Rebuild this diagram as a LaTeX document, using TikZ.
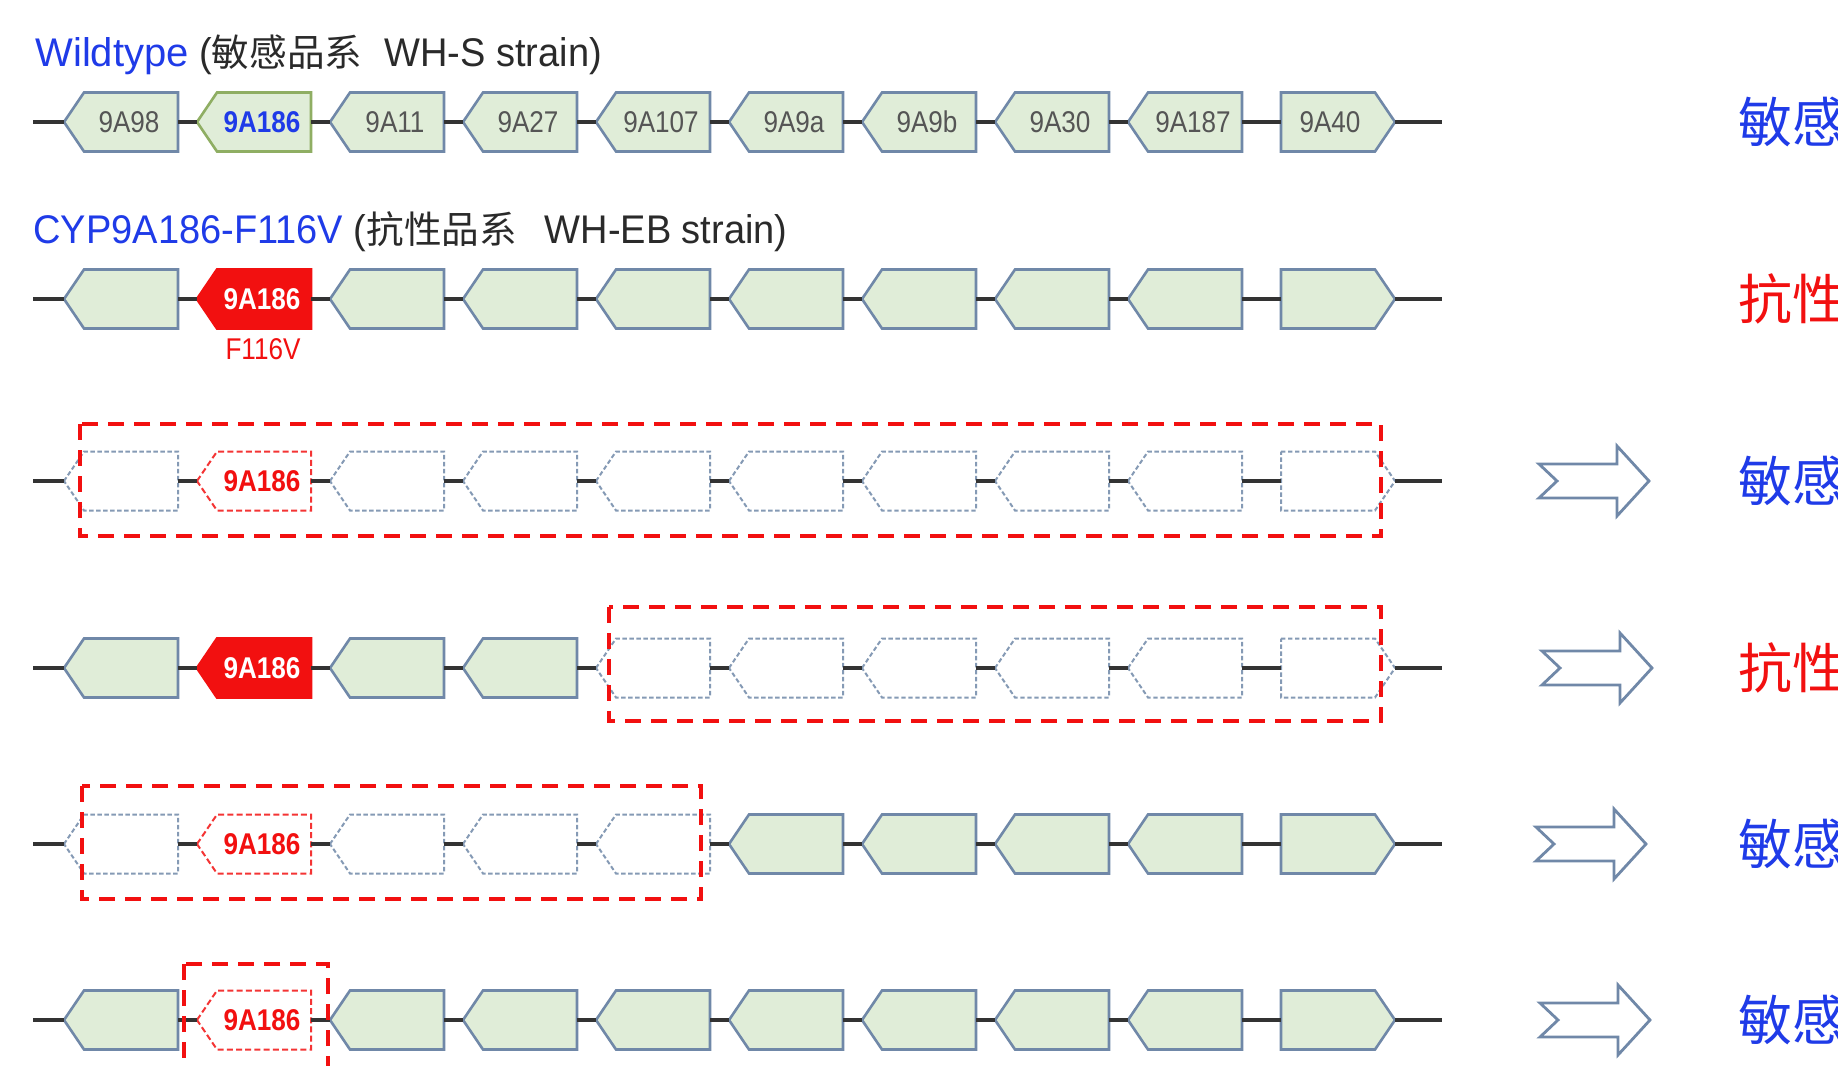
\documentclass[tikz,border=0pt]{standalone}
\usepackage{fontspec}
\setmainfont{Liberation Sans}
\newfontfamily\cjk{Noto Sans CJK SC}
\newfontfamily\gfont[FakeStretch=0.87]{Liberation Sans}
\newfontfamily\tfont[FakeStretch=0.95]{Liberation Sans}
\newfontfamily\wfont{Liberation Sans}
\definecolor{gfill}{HTML}{E0EDD8}
\definecolor{gedge}{HTML}{7088A8}
\definecolor{gwtedge}{HTML}{8FAE63}
\definecolor{tblue}{HTML}{1F3BE8}
\definecolor{tred}{HTML}{F21010}
\definecolor{gtext}{HTML}{555555}
\definecolor{bbcol}{HTML}{333333}
\definecolor{ttext}{HTML}{2A2A2A}
\tikzset{
 genetext/.style={inner sep=0pt,font=\gfont\fontsize{15}{15}\selectfont,text=gtext},
 sol-S/.style={fill=gfill,draw=gedge,line width=1.3pt,line join=miter},
 sol-T/.style={},
 wt-S/.style={fill=gfill,draw=gwtedge,line width=1.3pt,line join=miter},
 wt-T/.style={text=tblue,font=\gfont\fontsize{15}{15}\selectfont\bfseries},
 red-S/.style={fill=tred,draw=tred,line width=1.3pt,line join=miter},
 red-T/.style={text=white,font=\gfont\fontsize{15}{15}\selectfont\bfseries},
 dsh-S/.style={fill=white,draw=gedge!85,line width=1pt,dash pattern=on 2.2pt off 1.3pt},
 dsh-T/.style={},
 dred-S/.style={fill=white,draw=tred!85,line width=1pt,dash pattern=on 3pt off 1.6pt},
 dred-T/.style={text=tred,font=\gfont\fontsize{15}{15}\selectfont\bfseries},
 backbone/.style={draw=bbcol,line width=1.6pt},
 redbox/.style={draw=tred,line width=2pt,dash pattern=on 8pt off 5pt},
 bigarrow/.style={draw=gedge,fill=white,line width=1.4pt,line join=miter},
 verdict/.style={anchor=west,inner sep=0pt,font=\cjk\fontsize{27}{27}\selectfont},
 titletext/.style={anchor=west,inner sep=0pt,font=\tfont\fontsize{20}{24}\selectfont,text=ttext},
}
% left-pointing gene: name, x of tip, y, kind, label
\newcommand\gL[5]{%
 \path[#4-S] (#2,#3) -- (#2+20,#3-29.5) -- (#2+114,#3-29.5) -- (#2+114,#3+29.5) -- (#2+20,#3+29.5) -- cycle;
 \node[genetext,#4-T] (#1) at (#2+65,#3) {#5};
 \coordinate (#1-l) at (#2,#3);
 \coordinate (#1-r) at (#2+114,#3);}
% right-pointing gene: name, x of left edge, y, kind, label
\newcommand\gR[5]{%
 \path[#4-S] (#2,#3-29.5) -- (#2+94,#3-29.5) -- (#2+114,#3) -- (#2+94,#3+29.5) -- (#2,#3+29.5) -- cycle;
 \node[genetext,#4-T] (#1) at (#2+49,#3) {#5};
 \coordinate (#1-l) at (#2,#3);
 \coordinate (#1-r) at (#2+114,#3);}
% backbone: prefix, y
\newcommand\backb[2]{%
 \coordinate (#1s) at (33,#2);
 \coordinate (#1e) at (1442,#2);
 \draw[backbone] (#1s) -- (#1g1-l);
 \foreach \i [evaluate=\i as \j using int(\i+1)] in {1,...,9} {\draw[backbone] (#1g\i-r) -- (#1g\j-l);}
 \draw[backbone] (#1g10-r) -- (#1e);}
% block arrow: name, x, y
\newcommand\barrow[3]{%
 \draw[bigarrow] (#2,#3-17) -- (#2+78,#3-17) -- (#2+78,#3-35) -- (#2+110,#3) -- (#2+78,#3+35) -- (#2+78,#3+17) -- (#2,#3+17) -- (#2+18,#3) -- cycle;
 \coordinate (#1) at (#2+55,#3);}
\begin{document}
\begin{tikzpicture}[x=0.5pt,y=-0.5pt]
\useasboundingbox[fill=white] (0,0) rectangle (1838,1066);
% ---------- titles
\node[titletext] (t1) at (35,55) {\textcolor{tblue}{\wfont Wildtype} ({\cjk\fontsize{18.8}{24}\selectfont 敏感品系}\hspace{11pt}WH-S strain)};
\node[titletext] (t2) at (33,232) {\textcolor{tblue}{CYP9A186-F116V} ({\cjk\fontsize{18.8}{24}\selectfont 抗性品系}\hspace{14pt}WH-EB strain)};
% ---------- row 1
\gL{ag1}{64}{122}{sol}{9A98}
\gL{ag2}{197}{122}{wt}{9A186}
\gL{ag3}{330}{122}{sol}{9A11}
\gL{ag4}{463}{122}{sol}{9A27}
\gL{ag5}{596}{122}{sol}{9A107}
\gL{ag6}{729}{122}{sol}{9A9a}
\gL{ag7}{862}{122}{sol}{9A9b}
\gL{ag8}{995}{122}{sol}{9A30}
\gL{ag9}{1128}{122}{sol}{9A187}
\gR{ag10}{1281}{122}{sol}{9A40}
\backb{a}{122}
% ---------- row 2
\gL{bg1}{64}{299}{sol}{}
\gL{bg2}{197}{299}{red}{9A186}
\gL{bg3}{330}{299}{sol}{}
\gL{bg4}{463}{299}{sol}{}
\gL{bg5}{596}{299}{sol}{}
\gL{bg6}{729}{299}{sol}{}
\gL{bg7}{862}{299}{sol}{}
\gL{bg8}{995}{299}{sol}{}
\gL{bg9}{1128}{299}{sol}{}
\gR{bg10}{1281}{299}{sol}{}
\backb{b}{299}
\node[genetext,text=tred] (mut) at (263,349) {F116V};
% ---------- row 3
\gL{cg1}{64}{481}{dsh}{}
\gL{cg2}{197}{481}{dred}{9A186}
\gL{cg3}{330}{481}{dsh}{}
\gL{cg4}{463}{481}{dsh}{}
\gL{cg5}{596}{481}{dsh}{}
\gL{cg6}{729}{481}{dsh}{}
\gL{cg7}{862}{481}{dsh}{}
\gL{cg8}{995}{481}{dsh}{}
\gL{cg9}{1128}{481}{dsh}{}
\gR{cg10}{1281}{481}{dsh}{}
\backb{c}{481}
\draw[redbox] (80,424) rectangle (1381,536);
% ---------- row 4
\gL{dg1}{64}{668}{sol}{}
\gL{dg2}{197}{668}{red}{9A186}
\gL{dg3}{330}{668}{sol}{}
\gL{dg4}{463}{668}{sol}{}
\gL{dg5}{596}{668}{dsh}{}
\gL{dg6}{729}{668}{dsh}{}
\gL{dg7}{862}{668}{dsh}{}
\gL{dg8}{995}{668}{dsh}{}
\gL{dg9}{1128}{668}{dsh}{}
\gR{dg10}{1281}{668}{dsh}{}
\backb{d}{668}
\draw[redbox] (609,607) rectangle (1381,721);
% ---------- row 5
\gL{eg1}{64}{844}{dsh}{}
\gL{eg2}{197}{844}{dred}{9A186}
\gL{eg3}{330}{844}{dsh}{}
\gL{eg4}{463}{844}{dsh}{}
\gL{eg5}{596}{844}{dsh}{}
\gL{eg6}{729}{844}{sol}{}
\gL{eg7}{862}{844}{sol}{}
\gL{eg8}{995}{844}{sol}{}
\gL{eg9}{1128}{844}{sol}{}
\gR{eg10}{1281}{844}{sol}{}
\backb{e}{844}
\draw[redbox] (82,786) rectangle (701,899);
% ---------- row 6
\gL{fg1}{64}{1020}{sol}{}
\gL{fg2}{197}{1020}{dred}{9A186}
\gL{fg3}{330}{1020}{sol}{}
\gL{fg4}{463}{1020}{sol}{}
\gL{fg5}{596}{1020}{sol}{}
\gL{fg6}{729}{1020}{sol}{}
\gL{fg7}{862}{1020}{sol}{}
\gL{fg8}{995}{1020}{sol}{}
\gL{fg9}{1128}{1020}{sol}{}
\gR{fg10}{1281}{1020}{sol}{}
\backb{f}{1020}
\draw[redbox] (184,964) rectangle (328,1076);
% ---------- arrows
\barrow{arc}{1539}{481}
\barrow{ard}{1542}{668}
\barrow{are}{1536}{844}
\barrow{arf}{1540}{1020}
% ---------- verdicts
\node[verdict,text=tblue] (va) at (1738,122) {敏感};
\node[verdict,text=tred] (vb) at (1738,299) {抗性};
\node[verdict,text=tblue] (vc) at (1738,481) {敏感};
\node[verdict,text=tred] (vd) at (1738,668) {抗性};
\node[verdict,text=tblue] (ve) at (1738,844) {敏感};
\node[verdict,text=tblue] (vf) at (1738,1020) {敏感};
\end{tikzpicture}
\end{document}
